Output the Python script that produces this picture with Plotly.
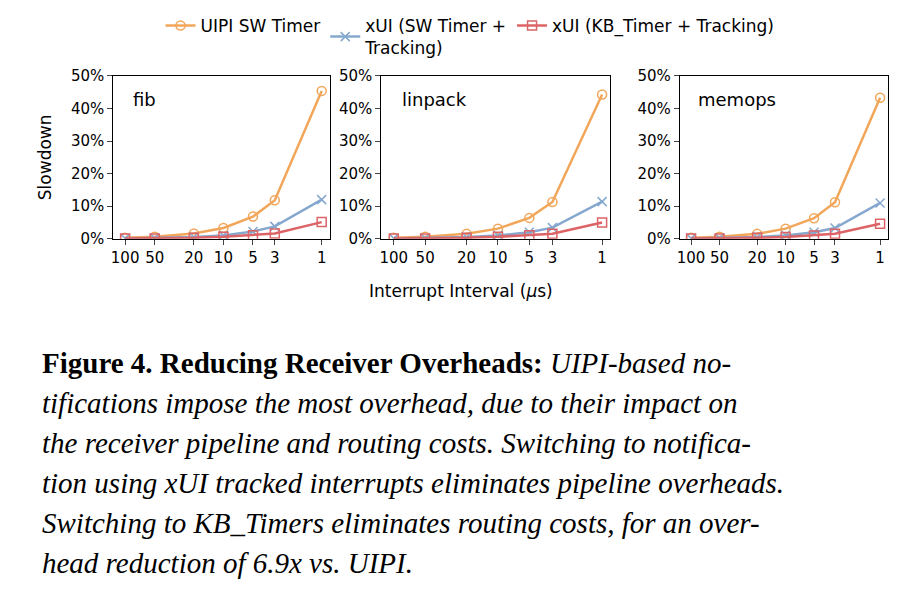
import plotly.graph_objects as go
from plotly.subplots import make_subplots

intervals = [100, 50, 20, 10, 5, 3, 1]
benchmarks = ["fib", "linpack", "memops"]
series_names = ["UIPI SW Timer", "xUI (SW Timer +<br>Tracking)", "xUI (KB_Timer + Tracking)"]

uipi = {
    "fib": [0.3, 0.6, 1.6, 3.3, 6.8, 11.8, 45.4],
    "linpack": [0.3, 0.6, 1.5, 3.1, 6.4, 11.3, 44.3],
    "memops": [0.3, 0.6, 1.5, 3.1, 6.3, 11.2, 43.3],
}
xui_sw = {
    "fib": [0.1, 0.2, 0.5, 1.0, 2.2, 3.8, 12.0],
    "linpack": [0.1, 0.2, 0.5, 1.0, 2.0, 3.4, 11.4],
    "memops": [0.1, 0.2, 0.5, 1.0, 2.0, 3.3, 11.0],
}
xui_kb = {
    "fib": [0.1, 0.1, 0.3, 0.6, 1.1, 1.6, 5.1],
    "linpack": [0.1, 0.1, 0.3, 0.6, 1.1, 1.5, 5.0],
    "memops": [0.1, 0.1, 0.3, 0.5, 1.0, 1.5, 4.6],
}

caption_lines = [
    "<b>Figure 4. Reducing Receiver Overheads:</b> <i>UIPI-based no-</i>",
    "<i>tifications impose the most overhead, due to their impact on</i>",
    "<i>the receiver pipeline and routing costs. Switching to notifica-</i>",
    "<i>tion using xUI tracked interrupts eliminates pipeline overheads.</i>",
    "<i>Switching to KB_Timers eliminates routing costs, for an over-</i>",
    "<i>head reduction of 6.9x vs. UIPI.</i>",
]

colors = ["#F2A65A", "#86A8CF", "#DC6466"]
symbols = ["circle-open", "x-thin-open", "square-open"]

fig = make_subplots(rows=1, cols=3)
domains = [[0.114, 0.348], [0.404, 0.652], [0.727, 0.952]]

for i, b in enumerate(benchmarks):
    for j, data in enumerate([uipi, xui_sw, xui_kb]):
        fig.add_trace(go.Scatter(
            x=intervals, y=data[b], mode="lines+markers",
            name=series_names[j], showlegend=(i == 0),
            line=dict(color=colors[j], width=2.5),
            marker=dict(symbol=symbols[j], size=9, color=colors[j],
                        line=dict(width=1.5, color=colors[j])),
        ), row=1, col=i + 1)
    ax = "" if i == 0 else str(i + 1)
    fig.layout["xaxis" + ax].update(
        domain=domains[i], type="log", range=[2.12, -0.08],
        tickvals=intervals, ticktext=[str(v) for v in intervals],
        showline=True, mirror=True, linecolor="black", ticks="outside",
        showgrid=False, tickfont=dict(size=15, color="black"))
    fig.layout["yaxis" + ax].update(
        domain=[0.623, 0.889], range=[0, 50], dtick=10, ticksuffix="%",
        showline=True, mirror=True, linecolor="black", ticks="outside",
        showgrid=False, zeroline=False, tickfont=dict(size=15, color="black"))
    fig.add_annotation(text=b, xref="x" + ax + " domain", yref="y" + ax + " domain",
                       x=0.08, y=0.93, xanchor="left", yanchor="top",
                       showarrow=False, font=dict(size=18, color="black"))

fig.layout.yaxis.title = dict(text="Slowdown", font=dict(size=17, color="black"))
fig.add_annotation(text="Interrupt Interval (<i>μ</i>s)", xref="paper", yref="paper",
                   x=0.49, y=1 - 283 / 612, showarrow=False, font=dict(size=17, color="black"))

for k, line in enumerate(caption_lines):
    fig.add_annotation(text=line, xref="paper", yref="paper", x=0.035,
                       y=1 - (355 + 40 * k) / 612, xanchor="left", yanchor="middle",
                       showarrow=False,
                       font=dict(size=29, color="black", family="Liberation Serif"))

fig.update_layout(
    width=924, height=612, plot_bgcolor="white", paper_bgcolor="white",
    font=dict(family="DejaVu Sans", color="black"),
    margin=dict(l=0, r=0, t=0, b=0, autoexpand=False),
    legend=dict(orientation="h", x=0.5, xanchor="center", y=1.0, yanchor="top",
                font=dict(size=17), traceorder="normal"),
)

fig.write_html("out.html")
